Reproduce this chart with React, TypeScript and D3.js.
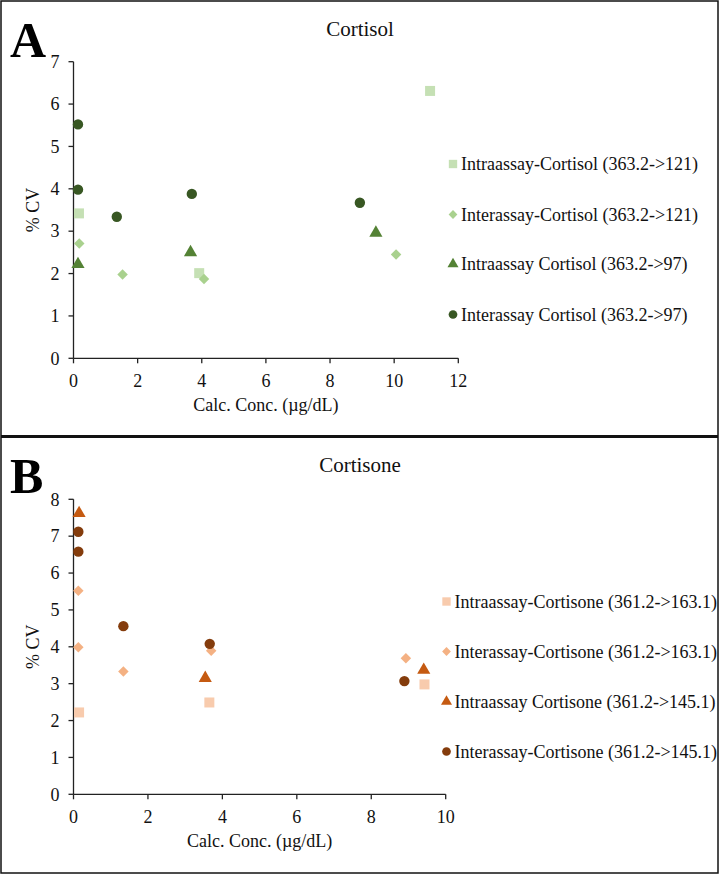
import React from "react";
import * as d3 from "d3";

// ---------- Data ----------
const cortisolTitle = "Cortisol";
const cortisolXTicks = [0, 2, 4, 6, 8, 10, 12];
const cortisolYTicks = [0, 1, 2, 3, 4, 5, 6, 7];

const cortIntra121X = [0.17, 3.92, 11.12];
const cortIntra121Y = [3.42, 2.01, 6.31];
const cortInter121X = [0.18, 1.53, 4.07, 10.06];
const cortInter121Y = [2.71, 1.98, 1.87, 2.45];
const cortIntra97X = [0.14, 3.65, 9.43];
const cortIntra97Y = [2.22, 2.5, 2.96];
const cortInter97X = [0.14, 0.14, 1.35, 3.69, 8.93];
const cortInter97Y = [5.52, 3.98, 3.34, 3.88, 3.67];

const cortisoneTitle = "Cortisone";
const cortisoneXTicks = [0, 2, 4, 6, 8, 10];
const cortisoneYTicks = [0, 1, 2, 3, 4, 5, 6, 7, 8];

const cnIntra163X = [0.15, 3.65, 9.43];
const cnIntra163Y = [2.22, 2.49, 2.98];
const cnInter163X = [0.13, 0.13, 1.34, 3.7, 8.93];
const cnInter163Y = [5.52, 3.99, 3.33, 3.89, 3.69];
const cnIntra145X = [0.15, 3.54, 9.41];
const cnIntra145Y = [7.62, 3.15, 3.37];
const cnInter145X = [0.13, 0.13, 1.34, 3.66, 8.89];
const cnInter145Y = [7.12, 6.58, 4.56, 4.08, 3.07];

const cortisolLegend = [
  "Intraassay-Cortisol (363.2->121)",
  "Interassay-Cortisol (363.2->121)",
  "Intraassay Cortisol (363.2->97)",
  "Interassay Cortisol (363.2->97)",
];
const cortisoneLegend = [
  "Intraassay-Cortisone (361.2->163.1)",
  "Interassay-Cortisone (361.2->163.1)",
  "Intraassay Cortisone (361.2->145.1)",
  "Interassay-Cortisone (361.2->145.1)",
];

const FONT = "\"Liberation Serif\", \"Times New Roman\", Times, serif";
const TXT: React.CSSProperties = { fontFamily: FONT, fontSize: "18px" };

type Series = { xs: number[]; ys: number[]; shape: string; color: string; label: string };

function symbolPath(shape: string, size: number) {
  if (shape === "square") return d3.symbol(d3.symbolSquare, size)() as string;
  if (shape === "diamond") return d3.symbol(d3.symbolSquare, size * 0.55)() as string;
  if (shape === "triangle") return d3.symbol(d3.symbolTriangle, size * 0.75)() as string;
  return d3.symbol(d3.symbolCircle, size * 0.85)() as string;
}

function Marker({ shape, color, x, y, size }: { shape: string; color: string; x: number; y: number; size: number }) {
  const rot = shape === "diamond" ? " rotate(45)" : "";
  return <path d={symbolPath(shape, size)} transform={`translate(${x},${y})${rot}`} fill={color} />;
}

function Panel(props: {
  top: number;
  letter: string;
  title: string;
  xMax: number;
  yMax: number;
  xTicks: number[];
  yTicks: number[];
  plot: { x0: number; x1: number; y0: number; y1: number };
  series: Series[];
  legend: { x: number; ys: number[] };
}) {
  const { top, letter, title, xMax, yMax, xTicks, yTicks, plot, series, legend } = props;
  const x = d3.scaleLinear().domain([0, xMax]).range([plot.x0, plot.x1]);
  const y = d3.scaleLinear().domain([0, yMax]).range([plot.y0, plot.y1]);
  const axisColor = "#222";
  return (
    <g transform={`translate(0,${top})`}>
      <text x={10} y={57} style={{ fontFamily: FONT, fontSize: "50px", fontWeight: "bold" }} fill="#000">{letter}</text>
      <text x={360} y={36} style={{ fontFamily: FONT, fontSize: "21px" }} textAnchor="middle" fill="#111">{title}</text>
      <line x1={plot.x0} x2={plot.x0} y1={y(0)} y2={y(yMax)} stroke={axisColor} strokeWidth={1.3} />
      {yTicks.map((t) => (
        <g key={"y" + t}>
          <line x1={plot.x0 - 5} x2={plot.x0} y1={y(t)} y2={y(t)} stroke={axisColor} strokeWidth={1.3} />
          <text x={plot.x0 - 14} y={y(t)} dy="0.35em" style={TXT} textAnchor="end" fill="#111">{t}</text>
        </g>
      ))}
      <line x1={x(0)} x2={x(xMax)} y1={plot.y0} y2={plot.y0} stroke={axisColor} strokeWidth={1.3} />
      {xTicks.map((t) => (
        <g key={"x" + t}>
          <line x1={x(t)} x2={x(t)} y1={plot.y0} y2={plot.y0 + 5} stroke={axisColor} strokeWidth={1.3} />
          <text x={x(t)} y={plot.y0 + 22} dy="0.35em" style={TXT} textAnchor="middle" fill="#111">{t}</text>
        </g>
      ))}
      <text x={(plot.x0 + plot.x1) / 2} y={plot.y0 + 53} style={TXT} textAnchor="middle" fill="#111">Calc. Conc. (µg/dL)</text>
      <text transform={`translate(39,${(plot.y0 + plot.y1) / 2}) rotate(-90)`} style={TXT} textAnchor="middle" fill="#111">% CV</text>
      {series.map((s, si) => (
        <g key={"s" + si}>
          {s.xs.map((xv, i) => (
            <Marker key={i} shape={s.shape} color={s.color} x={x(xv)} y={y(s.ys[i])} size={100} />
          ))}
        </g>
      ))}
      {series.map((s, si) => (
        <g key={"l" + si}>
          <Marker shape={s.shape} color={s.color} x={legend.x} y={legend.ys[si]} size={70} />
          <text x={legend.x + 8} y={legend.ys[si]} dy="0.35em" style={TXT} fill="#111">{s.label}</text>
        </g>
      ))}
    </g>
  );
}

export default function App() {
  const greens = ["#c5e0b4", "#a9d18e", "#548235", "#385723"];
  const oranges = ["#f8cbad", "#f4b183", "#c55a11", "#843c0c"];
  const shapes = ["square", "diamond", "triangle", "circle"];
  const seriesA: Series[] = [
    { xs: cortIntra121X, ys: cortIntra121Y, shape: shapes[0], color: greens[0], label: cortisolLegend[0] },
    { xs: cortInter121X, ys: cortInter121Y, shape: shapes[1], color: greens[1], label: cortisolLegend[1] },
    { xs: cortIntra97X, ys: cortIntra97Y, shape: shapes[2], color: greens[2], label: cortisolLegend[2] },
    { xs: cortInter97X, ys: cortInter97Y, shape: shapes[3], color: greens[3], label: cortisolLegend[3] },
  ];
  const seriesB: Series[] = [
    { xs: cnIntra163X, ys: cnIntra163Y, shape: shapes[0], color: oranges[0], label: cortisoneLegend[0] },
    { xs: cnInter163X, ys: cnInter163Y, shape: shapes[1], color: oranges[1], label: cortisoneLegend[1] },
    { xs: cnIntra145X, ys: cnIntra145Y, shape: shapes[2], color: oranges[2], label: cortisoneLegend[2] },
    { xs: cnInter145X, ys: cnInter145Y, shape: shapes[3], color: oranges[3], label: cortisoneLegend[3] },
  ];
  return (
    <svg width={721} height={875} style={{ position: "absolute", left: 0, top: 0, background: "#fff", fontFamily: FONT }}>
      <rect x={0} y={0} width={721} height={875} fill="#fff" />
      <Panel
        top={0}
        letter="A"
        title={cortisolTitle}
        xMax={12}
        yMax={7}
        xTicks={cortisolXTicks}
        yTicks={cortisolYTicks}
        plot={{ x0: 73.5, x1: 458.3, y0: 358.3, y1: 61.7 }}
        series={seriesA}
        legend={{ x: 453, ys: [164, 214.5, 264, 314.5] }}
      />
      <Panel
        top={436}
        letter="B"
        title={cortisoneTitle}
        xMax={10}
        yMax={8}
        xTicks={cortisoneXTicks}
        yTicks={cortisoneYTicks}
        plot={{ x0: 73.5, x1: 445.7, y0: 358.3, y1: 63.3 }}
        series={seriesB}
        legend={{ x: 446.5, ys: [165.5, 215.5, 265.5, 315.5] }}
      />
      <rect x={1} y={1} width={717} height={872} fill="none" stroke="#111" strokeWidth={1.5} />
      <line x1={1} x2={718} y1={436.5} y2={436.5} stroke="#111" strokeWidth={3} />
    </svg>
  );
}
